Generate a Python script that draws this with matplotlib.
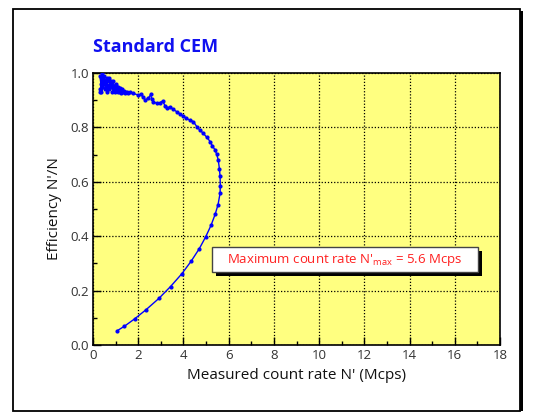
import matplotlib
matplotlib.use("Agg")
import matplotlib.pyplot as plt
from matplotlib.patches import Rectangle

# --- data ---
cluster_x = [0.30, 0.35, 0.32, 0.40, 0.38, 0.45, 0.33, 0.50, 0.42, 0.55, 0.36, 0.60, 0.48, 0.65,
             0.52, 0.70, 0.58, 0.75, 0.62, 0.80, 0.68, 0.85, 0.72, 0.90, 0.78, 0.95, 0.85, 1.00,
             0.92, 1.05, 0.98, 1.10, 1.05, 1.15, 1.12, 1.20, 1.18, 1.28, 1.25, 1.35, 1.32, 1.42,
             1.40, 1.50, 1.55]
cluster_y = [0.99, 0.96, 0.93, 1.00, 0.95, 0.98, 0.94, 0.99, 0.95, 0.97, 0.93, 0.98, 0.96, 0.97,
             0.94, 0.98, 0.95, 0.96, 0.93, 0.97, 0.95, 0.96, 0.94, 0.97, 0.95, 0.95, 0.93, 0.96,
             0.94, 0.95, 0.93, 0.95, 0.94, 0.94, 0.93, 0.945, 0.93, 0.94, 0.925, 0.935, 0.93, 0.93,
             0.925, 0.93, 0.925]
tail_x = [1.64, 1.78, 2.00, 2.12, 2.23, 2.30, 2.45, 2.55, 2.60, 2.67, 2.82, 2.96, 3.08, 3.19,
          3.29, 3.41, 3.53, 3.70, 3.85, 4.00, 4.12, 4.29, 4.44, 4.59, 4.73, 4.88, 5.03, 5.18,
          5.28, 5.40, 5.47, 5.54, 5.59, 5.62, 5.63, 5.62, 5.53, 5.40, 5.22, 4.98, 4.70, 4.34,
          3.93, 3.43, 2.91, 2.35, 1.84, 1.39, 1.08]
tail_y = [0.929, 0.925, 0.919, 0.921, 0.911, 0.901, 0.907, 0.921, 0.903, 0.895, 0.888, 0.891,
          0.897, 0.879, 0.872, 0.876, 0.867, 0.858, 0.849, 0.842, 0.833, 0.827, 0.821, 0.803,
          0.790, 0.778, 0.764, 0.748, 0.732, 0.717, 0.701, 0.680, 0.648, 0.620, 0.586, 0.558,
          0.516, 0.480, 0.440, 0.397, 0.354, 0.308, 0.262, 0.215, 0.171, 0.130, 0.096, 0.069,
          0.053]
count_rate = cluster_x + tail_x
efficiency = cluster_y + tail_y

x_ticks = [0, 2, 4, 6, 8, 10, 12, 14, 16, 18]
y_ticks = [0.0, 0.2, 0.4, 0.6, 0.8, 1.0]

title = "Standard CEM"
xlabel = "Measured count rate N' (Mcps)"
ylabel = "Efficiency N'/N"
note = "Maximum count rate N'$_{\\mathregular{max}}$ = 5.6 Mcps"

plt.rcParams['font.family'] = ['Open Sans', 'DejaVu Sans']

fig = plt.figure(figsize=(5.35, 4.13), dpi=100)
W, H = 535, 413

# outer frame with shadow on the right
fig.patches.append(Rectangle((15 / W, 1 - 411 / H), (523 - 15) / W, (411 - 11) / H,
                             transform=fig.transFigure, facecolor='black', edgecolor='none', zorder=0))
fig.patches.append(Rectangle((13 / W, 1 - 411 / H), (520 - 13) / W, (411 - 9) / H,
                             transform=fig.transFigure, facecolor='white', edgecolor='black',
                             linewidth=1.3, zorder=1))

ax = fig.add_axes([93 / W, 1 - 345 / H, (500 - 93) / W, (345 - 73) / H])
ax.set_facecolor('#FFFF80')
ax.set_zorder(2)

ax.plot(count_rate, efficiency, color='#0000FF', linewidth=1.0, marker='o', markersize=2.0,
        zorder=3)

ax.set_xlim(0, 18)
ax.set_ylim(0, 1.0)
ax.set_xticks(x_ticks)
ax.set_yticks(y_ticks)
ax.set_xticklabels([str(v) for v in x_ticks])
ax.set_yticklabels([f"{v:.1f}" for v in y_ticks])
ax.set_xticks([1, 3, 5, 7, 9, 11, 13, 15, 17], minor=True)
ax.set_yticks([0.1, 0.3, 0.5, 0.7, 0.9], minor=True)
ax.tick_params(which='both', direction='in', top=False, right=False, colors='black',
               labelcolor='#333333', labelsize=9.5, width=1.0)
ax.tick_params(which='major', length=6, pad=3)
ax.tick_params(which='minor', length=3)
ax.grid(True, which='major', color='black', linestyle=(0, (1, 1.5)), linewidth=0.9)
for s in ax.spines.values():
    s.set_linewidth(1.2)

ax.set_xlabel(xlabel, fontsize=11, labelpad=4, color='#111111')
ax.set_ylabel(ylabel, fontsize=11, labelpad=6, color='#111111')

fig.text(93 / W, 1 - 47 / H, title, fontsize=13, fontweight='bold', color='#1010F0',
         ha='left', va='center', fontstretch='condensed')

# annotation box with shadow (axes-fraction layout)
bx0, bx1 = (212 - 93) / (500 - 93), (478 - 93) / (500 - 93)
by0, by1 = (345 - 272) / 272, (345 - 247) / 272
sx, sy = 4 / (500 - 93), 4 / 272
ax.add_patch(Rectangle((bx0 + sx, by0 - sy), bx1 - bx0, by1 - by0, transform=ax.transAxes,
                       facecolor='black', edgecolor='none', zorder=4))
ax.add_patch(Rectangle((bx0, by0), bx1 - bx0, by1 - by0, transform=ax.transAxes,
                       facecolor='white', edgecolor='#444444', linewidth=1.0, zorder=5))
ax.text((bx0 + bx1) / 2, (by0 + by1) / 2, note, transform=ax.transAxes, ha='center',
        va='center', color='#FF2020', fontsize=9.5, zorder=6)

fig.savefig('out.png', dpi=100)
